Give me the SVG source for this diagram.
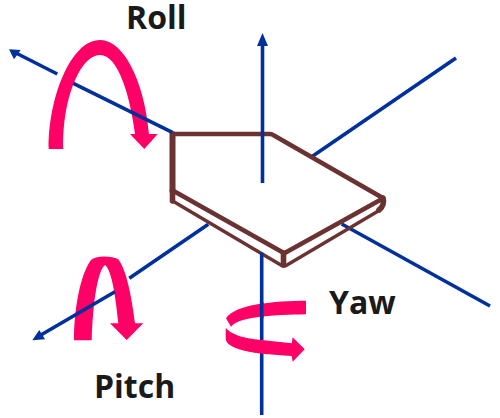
<svg xmlns="http://www.w3.org/2000/svg" width="500" height="418" viewBox="0 0 500 418">
<defs><style>
.ax{fill:none;stroke:#00309b;stroke-width:3.6}
.hd{fill:#00309b}
.pk{fill:#ff0066}
.br{fill:none;stroke:#6b3232;stroke-linejoin:round;stroke-linecap:round}
text{font-family:"Open Sans","Noto Sans",sans-serif;font-weight:700;font-size:32px;fill:#1a1a1a}
</style></defs>
<rect width="500" height="418" fill="#fff"/>
<g id="axes-under">
<path class="ax" d="M57.3,74L17,53.5"/>
<path class="ax" d="M311.7,156.7L456,58"/>
<path class="ax" d="M341.7,224L490,306"/>
<path class="ax" d="M208.3,224.3L129.3,278.3"/>
</g>
<g id="plate">
<path class="br" stroke-width="4.6" d="M173.3,134H270Q272,134 274,135.5L383.3,198.3L284.3,253.3L175,191.7"/>
<path class="br" stroke-width="6" d="M172.5,134L172.5,191"/>
<path class="br" stroke-width="3.4" d="M173.5,201.5L281.7,265.5Q284,267 287,265L380,210"/>
<path class="br" stroke-width="5.6" d="M172.5,190V201M283.5,253V265M383,198Q385,205 379,210"/>
</g>
<g id="roll">
<path class="pk" d="M48.7,149C48,100 70,40 100,40C125,40 145,85 149,134L157.7,134L144.3,149L130,134L135,134C130,95 118,55 100,55C80,55 62,100 63.3,149Z"/>
<path class="ax" d="M73.3,83.3L172.3,132.3"/>
<text x="126" y="29">Roll</text>
</g>
<g id="pitch">
<path class="pk" d="M74,340.3C74,310 80,275 91,260Q95,256.5 104,256.5Q113,256.5 118,259C127,270 132,300 135,323.3L143.3,323.3L126.7,340L110,323.3L118.3,323.3C116,300 112,270 105,265C98,270 93,300 91.7,340.3Z"/>
<path class="ax" d="M115,291.7L40,335.5"/>
<text x="94" y="398">Pitch</text>
</g>
<g id="yaw">
<path class="ax" d="M262.5,40V183"/>
<path class="ax" d="M261.7,252.7V340M261.7,351.7V415"/>
<path class="pk" d="M225.7,327.7C232,336 250,339 261.7,340L291.7,343.3L292.7,337.3L304.7,349.3L292.7,361.7L291.7,356C270,354.5 261.7,354 250,352C235,349 225,345 225.7,337.3Z"/>
<path class="pk" d="M306,300.7C275,301 235,304 226,318.3L231,326.7C240,316 275,315 306,314.3Z"/>
<path class="ax" d="M261.7,302V318.5"/>
<text x="329" y="314">Yaw</text>
</g>
<g id="arrowheads">
<path class="hd" d="M9,49.3L20.7,50L14,59.3Z"/>
<path class="hd" d="M32.3,340.3L39.3,330L45,339.3Z"/>
<path class="hd" d="M262.5,33L268,46H257Z"/>
</g>
</svg>
